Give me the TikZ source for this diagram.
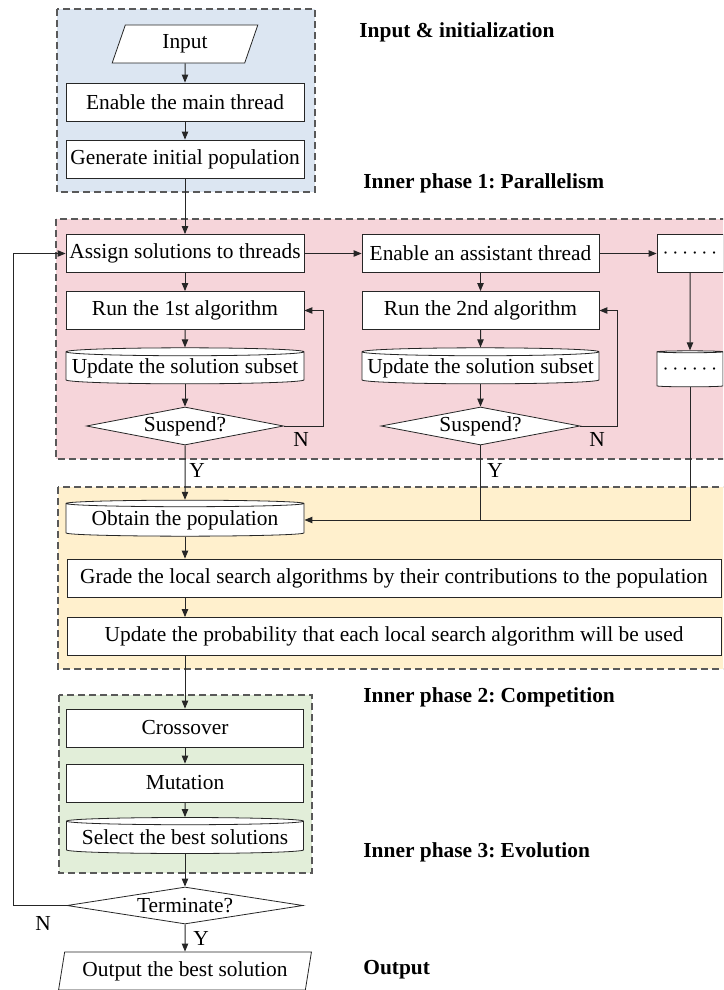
\documentclass[tikz,border=0pt]{standalone}
\usepackage{fontspec}
\setmainfont{Liberation Serif}
\usepackage{tikz}
\usepackage{xcolor}
\usetikzlibrary{shapes,arrows,positioning,backgrounds,arrows.meta}

\definecolor{initblue}{HTML}{DCE6F2}
\definecolor{parapink}{HTML}{F6D5DA}
\definecolor{compyellow}{HTML}{FFF0CD}
\definecolor{evogreen}{HTML}{E2EED9}

\tikzset{
    every node/.style={font=\fontsize{10.7pt}{13pt}\selectfont},
    proc/.style={rectangle, draw=black!85, fill=white, inner sep=0pt, minimum height=19pt},
    store/.style={cylinder, shape border rotate=90, aspect=0.035, draw=black!85, fill=white, inner sep=0pt, minimum height=18pt},
    decide/.style={diamond, aspect=5.2, draw=black!85, fill=white, inner sep=0pt, minimum height=19pt},
    inout/.style={trapezium, trapezium left angle=75, trapezium right angle=105, trapezium stretches=true, draw=black!85, fill=white, inner sep=0pt, minimum height=19pt},
    phasebox/.style={draw=black!65, dash pattern=on 3.5pt off 2pt, line width=0.6pt},
    phaselabel/.style={font=\fontsize{10.7pt}{13pt}\selectfont\bfseries, anchor=west, inner sep=0pt},
    flow/.style={draw=black!85, line width=0.5pt, -{Triangle[length=4pt,width=3.2pt]}},
    flowline/.style={draw=black!85, line width=0.5pt},
    yn/.style={inner sep=0pt}
}

\begin{document}
\frenchspacing
\begin{tikzpicture}[x=0.5pt,y=-0.5pt]
    \useasboundingbox (0,0) rectangle (723,990);
    \clip (0,0) rectangle (723,990);

    % Phase frames
    \draw [phasebox, fill=initblue] (57,9) rectangle (315,192);
    \draw [phasebox, fill=parapink] (56,219) rectangle (740,459);
    \draw [phasebox, fill=compyellow] (58,487) rectangle (740,669);
    \draw [phasebox, fill=evogreen] (59,695) rectangle (312,873);

    % Phase titles
    \node [phaselabel] (tinit) at (359,32) {Input \& initialization};
    \node [phaselabel] (tpar) at (363,183) {Inner phase 1: Parallelism};
    \node [phaselabel] (tcomp) at (363,697) {Inner phase 2: Competition};
    \node [phaselabel] (tevo) at (363,852) {Inner phase 3: Evolution};
    \node [phaselabel] (tout) at (363,970) {Output};

    % Input & initialization
    \node [inout, minimum width=73pt] (input) at (185,44) {Input};
    \node [proc, minimum width=119pt] (mainthr) at (185,102) {Enable the main thread};
    \node [proc, minimum width=119pt] (initpop) at (185,159) {Generate initial population};

    % Parallelism: main thread
    \node [proc, minimum width=119pt] (assign) at (185,253.5) {Assign solutions to threads};
    \node [proc, minimum width=119pt] (run1) at (185,310.5) {Run the 1st algorithm};
    \node [store, minimum width=119pt] (sub1) at (185,368) {Update the solution subset};
    \node [decide, minimum width=98.5pt] (susp1) at (185,426) {Suspend?};

    % Parallelism: assistant thread
    \node [proc, minimum width=118.5pt] (assist) at (480.5,253.5) {Enable an assistant thread};
    \node [proc, minimum width=118.5pt] (run2) at (480.5,310.5) {Run the 2nd algorithm};
    \node [store, minimum width=118.5pt] (sub2) at (480.5,368) {Update the solution subset};
    \node [decide, minimum width=99.5pt] (susp2) at (480.5,426) {Suspend?};

    % Parallelism: further threads
    \node [proc, minimum width=33pt] (more) at (690,253.5) {$\cdots\cdots$};
    \node [store, minimum width=33pt] (moresub) at (690,369.5) {$\cdots\cdots$};

    % Competition
    \node [store, minimum width=119pt] (obtain) at (185,520) {Obtain the population};
    \node [proc, minimum width=327pt] (grade) at (394,578) {Grade the local search algorithms by their contributions to the population};
    \node [proc, minimum width=327pt] (prob) at (394,636.5) {Update the probability that each local search algorithm will be used};

    % Evolution
    \node [proc, minimum width=118.5pt] (cross) at (185,728) {Crossover};
    \node [proc, minimum width=118.5pt] (mutate) at (185,783) {Mutation};
    \node [store, minimum width=118.5pt] (select) at (185,837.5) {Select the best solutions};
    \node [decide, minimum width=118pt, minimum height=18.5pt, aspect=6.4] (term) at (185,905.5) {Terminate?};
    \node [inout, minimum width=126.5pt] (output) at (185,971) {Output the best solution};

    % Flow of the main column
    \draw [flow] (input) -- (mainthr);
    \draw [flow] (mainthr) -- (initpop);
    \draw [flow] (initpop) -- (assign);
    \draw [flow] (assign) -- (run1);
    \draw [flow] (run1) -- (sub1);
    \draw [flow] (sub1) -- (susp1);
    \draw [flow] (susp1.east) -- ++(39.5,0) |- (run1.east);

    % Flow of the assistant threads
    \draw [flow] (assign) -- (assist);
    \draw [flow] (assist) -- (more);
    \draw [flow] (assist) -- (run2);
    \draw [flow] (run2) -- (sub2);
    \draw [flow] (sub2) -- (susp2);
    \draw [flow] (susp2.east) -- ++(37.5,0) |- (run2.east);
    \draw [flow] (more) -- (moresub);

    % Gathering the population
    \draw [flow] (susp1) -- (obtain);
    \draw [flowline] (susp2.south) -- (susp2.south |- obtain.east);
    \draw [flow] (moresub) |- (obtain.east);
    \draw [flow] (obtain) -- (obtain |- grade.north);
    \draw [flow] (obtain |- grade.south) -- (obtain |- prob.north);
    \draw [flow] (obtain |- prob.south) -- (cross);

    % Evolution and termination
    \draw [flow] (cross) -- (mutate);
    \draw [flow] (mutate) -- (select);
    \draw [flow] (select) -- (term);
    \draw [flow] (term) -- (output);
    \draw [flow] (term.west) -- ++(-53,0) |- (assign.west);

    % Branch labels
    \node [yn] (n1) at (301,439) {N};
    \node [yn] (y1) at (197,470) {Y};
    \node [yn] (n2) at (597,439) {N};
    \node [yn] (y2) at (495,470) {Y};
    \node [yn] (n3) at (43,923) {N};
    \node [yn] (y3) at (201,938) {Y};
\end{tikzpicture}
\end{document}
